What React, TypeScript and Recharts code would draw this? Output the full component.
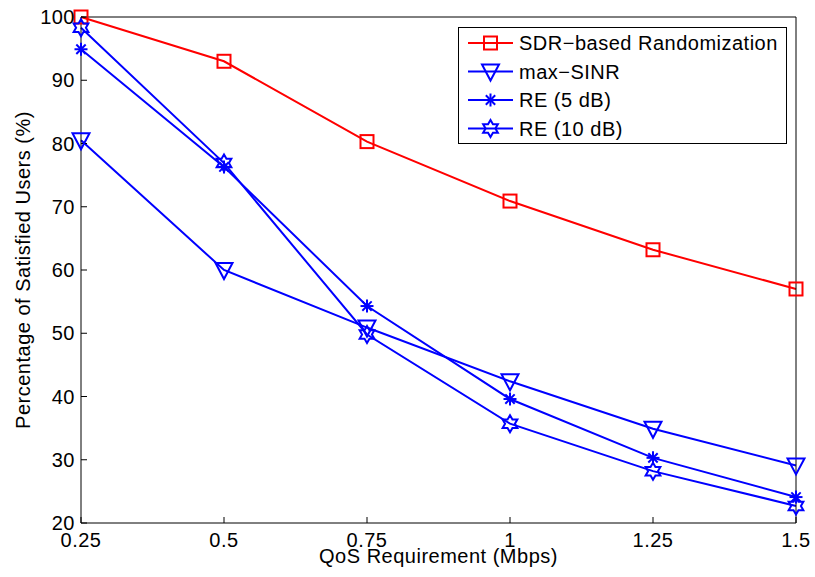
import { LineChart, Line, XAxis, YAxis, Label } from 'recharts'

// valeurs
const qos = [0.25, 0.5, 0.75, 1, 1.25, 1.5]
const sdrRandomization = [100, 93, 80.3, 70.9, 63.2, 57]
const maxSinr = [80.5, 60, 50.9, 42.4, 34.9, 29.1]
const re5 = [94.9, 76.3, 54.3, 39.6, 30.3, 24.1]
const re10 = [98.3, 76.9, 49.8, 35.7, 28.2, 22.7]

const xTicks = [0.25, 0.5, 0.75, 1, 1.25, 1.5]
const yTicks = [20, 30, 40, 50, 60, 70, 80, 90, 100]

const RED = '#ff0000'
const BLUE = '#0000ff'
const FONT = '"Liberation Sans", Arial, sans-serif'

const data = qos.map((q, i) => ({
    qos: q,
    sdr: sdrRandomization[i],
    maxSinr: maxSinr[i],
    re5: re5[i],
    re10: re10[i],
}))

type MarkerKind = 'square' | 'triangle' | 'asterisk' | 'hexagram'

// marqueurs style MATLAB
function Marker({ kind, cx, cy, color }: { kind: MarkerKind; cx: number; cy: number; color: string }) {
    if (kind === 'square') {
        return <rect x={cx - 6.5} y={cy - 6.5} width={13} height={13} fill="none" stroke={color} strokeWidth={2} />
    }
    if (kind === 'triangle') {
        const pts = `${cx - 8.5},${cy - 7} ${cx + 8.5},${cy - 7} ${cx},${cy + 9}`
        return <polygon points={pts} fill="none" stroke={color} strokeWidth={2} />
    }
    if (kind === 'asterisk') {
        const r = 6.5
        const d = r * 0.72
        return (
            <g stroke={color} strokeWidth={2}>
                <line x1={cx - r} y1={cy} x2={cx + r} y2={cy} />
                <line x1={cx} y1={cy - r} x2={cx} y2={cy + r} />
                <line x1={cx - d} y1={cy - d} x2={cx + d} y2={cy + d} />
                <line x1={cx - d} y1={cy + d} x2={cx + d} y2={cy - d} />
            </g>
        )
    }
    // hexagramme
    const R = 8.5
    const r = R / Math.sqrt(3)
    const pts: string[] = []
    for (let k = 0; k < 12; k++) {
        const a = ((90 + k * 30) * Math.PI) / 180
        const rad = k % 2 === 0 ? R : r
        pts.push(`${cx + rad * Math.cos(a)},${cy - rad * Math.sin(a)}`)
    }
    return <polygon points={pts.join(' ')} fill="none" stroke={color} strokeWidth={2} />
}

const makeDot = (kind: MarkerKind, color: string) => (props: any) => {
    const { cx, cy, index } = props
    if (cx == null || cy == null) return <g key={index} />
    return (
        <g key={`${kind}-${index}`}>
            <Marker kind={kind} cx={cx} cy={cy} color={color} />
        </g>
    )
}

const legendItems: { label: string; kind: MarkerKind; color: string }[] = [
    { label: 'SDR−based Randomization', kind: 'square', color: RED },
    { label: 'max−SINR', kind: 'triangle', color: BLUE },
    { label: 'RE (5 dB)', kind: 'asterisk', color: BLUE },
    { label: 'RE (10 dB)', kind: 'hexagram', color: BLUE },
]

const ChartLegend = () => (
    <svg width={330} height={118} style={{ display: 'block' }}>
        <rect x={0.5} y={0.5} width={328} height={116} fill="#fff" stroke="#000" strokeWidth={1} />
        {legendItems.map((item, i) => {
            const y = 16 + i * 28.5
            return (
                <g key={item.label}>
                    <line x1={10} y1={y} x2={55} y2={y} stroke={item.color} strokeWidth={2} />
                    <Marker kind={item.kind} cx={32.5} cy={y} color={item.color} />
                    <text x={61} y={y + 7} fontSize={20} fontFamily={FONT} letterSpacing={0.5} fill="#000">
                        {item.label}
                    </text>
                </g>
            )
        })}
    </svg>
)

const tickStyle = { fontSize: 20, fill: '#000', fontFamily: FONT, letterSpacing: 0.5 }

export default function App() {
    return (
        <div style={{ position: 'absolute', left: 0, top: 0, width: 815, height: 577, background: '#fff' }}>
            <LineChart
                width={815}
                height={577}
                data={data}
                margin={{ top: 16, right: 18, bottom: 0, left: 0 }}
            >
                <XAxis
                    dataKey="qos"
                    type="number"
                    domain={[0.25, 1.5]}
                    ticks={xTicks}
                    height={54}
                    stroke="#000"
                    tickSize={-6}
                    tickMargin={16}
                    tick={tickStyle}
                    tickFormatter={v => String(v)}
                >
                    <Label
                        content={({ viewBox }: any) => (
                            <text
                                x={viewBox.x + viewBox.width / 2}
                                y={viewBox.y + 40}
                                textAnchor="middle"
                                fontSize={20}
                                fontFamily={FONT}
                                letterSpacing={0.5}
                                fill="#000"
                            >
                                QoS Requirement (Mbps)
                            </text>
                        )}
                    />
                </XAxis>
                <XAxis
                    xAxisId="top"
                    dataKey="qos"
                    type="number"
                    orientation="top"
                    domain={[0.25, 1.5]}
                    ticks={xTicks}
                    height={1}
                    stroke="#000"
                    tickSize={-6}
                    tick={false}
                />
                <YAxis
                    type="number"
                    domain={[20, 100]}
                    ticks={yTicks}
                    width={81}
                    stroke="#000"
                    tickSize={-6}
                    tickMargin={12}
                    tick={tickStyle}
                >
                    <Label
                        content={({ viewBox }: any) => {
                            const x = 30
                            const y = viewBox.y + viewBox.height / 2
                            return (
                                <text
                                    x={x}
                                    y={y}
                                    transform={`rotate(-90, ${x}, ${y})`}
                                    textAnchor="middle"
                                    fontSize={20}
                                    fontFamily={FONT}
                                    letterSpacing={0.5}
                                    fill="#000"
                                >
                                    Percentage of Satisfied Users (%)
                                </text>
                            )
                        }}
                    />
                </YAxis>
                <YAxis
                    yAxisId="right"
                    type="number"
                    orientation="right"
                    domain={[20, 100]}
                    ticks={yTicks}
                    width={1}
                    stroke="#000"
                    tickSize={-6}
                    tick={false}
                />
                <Line
                    dataKey="sdr"
                    stroke={RED}
                    strokeWidth={2}
                    dot={makeDot('square', RED)}
                    isAnimationActive={false}
                />
                <Line
                    dataKey="maxSinr"
                    stroke={BLUE}
                    strokeWidth={2}
                    dot={makeDot('triangle', BLUE)}
                    isAnimationActive={false}
                />
                <Line
                    dataKey="re5"
                    stroke={BLUE}
                    strokeWidth={2}
                    dot={makeDot('asterisk', BLUE)}
                    isAnimationActive={false}
                />
                <Line
                    dataKey="re10"
                    stroke={BLUE}
                    strokeWidth={2}
                    dot={makeDot('hexagram', BLUE)}
                    isAnimationActive={false}
                />
            </LineChart>
            <div style={{ position: 'absolute', top: 27, left: 458 }}>
                <ChartLegend />
            </div>
        </div>
    )
}
